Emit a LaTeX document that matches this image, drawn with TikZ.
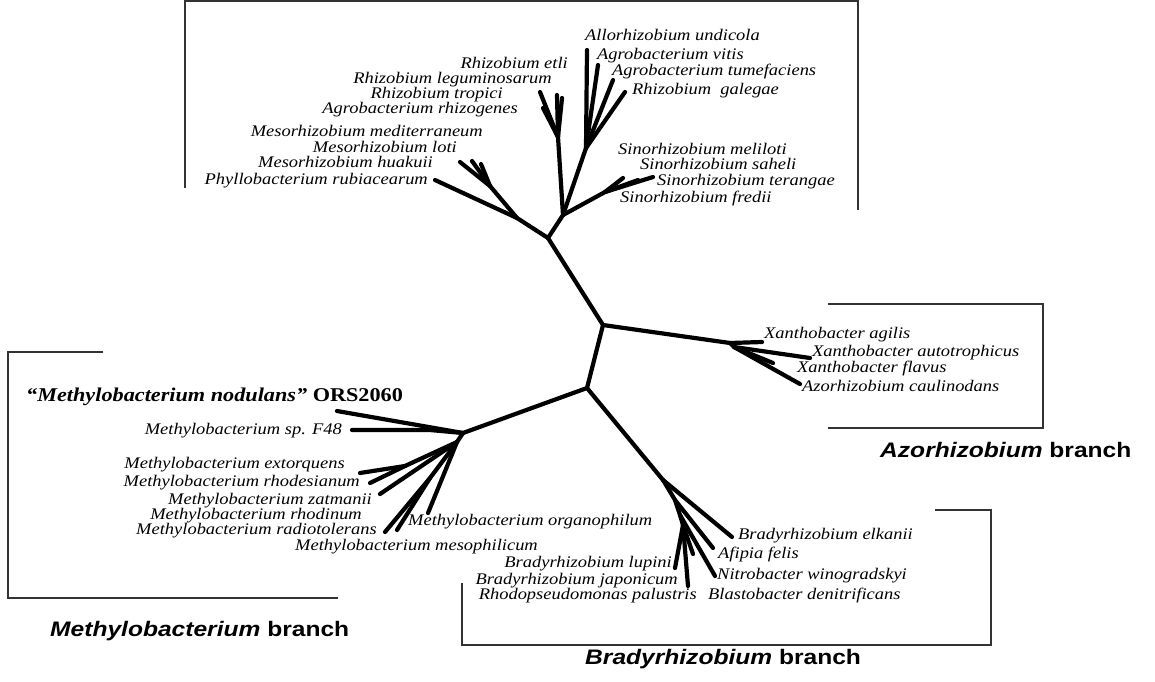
\documentclass[tikz,border=0pt]{standalone}
\usepackage{fontspec}
\newfontfamily\labfont[FakeStretch=1.14]{Liberation Serif}
\newfontfamily\brfont[FakeStretch=1.17]{Liberation Sans}
\begin{document}
\begin{tikzpicture}[x=1pt,y=-1pt,
  tree/.style={line width=4.2pt,line cap=round,line join=round},
  box/.style={line width=1.5pt,draw=black!80},
  lab/.style={font=\labfont\itshape\fontsize{16.2}{16.2}\selectfont,inner sep=0pt},
  le/.style={lab,anchor=mid east},
  lw/.style={lab,anchor=mid west},
  brlab/.style={font=\brfont\bfseries\fontsize{21}{21}\selectfont,inner sep=0pt,anchor=mid west}]
\useasboundingbox[fill=white] (0,0) rectangle (1155,681);

% ---------- boxes ----------
\coordinate (tb1) at (185,188); \coordinate (tb2) at (185,1);
\coordinate (tb3) at (858,1);   \coordinate (tb4) at (858,210);
\draw[box] (tb1) -- (tb2) -- (tb3) -- (tb4);
\coordinate (ab1) at (828,304); \coordinate (ab2) at (1043,304);
\coordinate (ab3) at (1043,428); \coordinate (ab4) at (828,428);
\draw[box] (ab1) -- (ab2) -- (ab3) -- (ab4);
\coordinate (mb1) at (103,352); \coordinate (mb2) at (8,352);
\coordinate (mb3) at (8,598);   \coordinate (mb4) at (338,598);
\draw[box] (mb1) -- (mb2) -- (mb3) -- (mb4);
\coordinate (bb1) at (462,583); \coordinate (bb2) at (462,645);
\coordinate (bb3) at (991,645); \coordinate (bb4) at (991,510);
\coordinate (bb5) at (935,510);
\draw[box] (bb1) -- (bb2) -- (bb3) -- (bb4) -- (bb5);

% ---------- backbone ----------
\coordinate (A) at (548,238);
\coordinate (B) at (603,325);
\coordinate (C) at (587,388);
\coordinate (M) at (463,433);
\coordinate (Z) at (730,343);
\coordinate (Br) at (663,480);
\draw[tree] (A) -- (B) -- (C) -- (M);
\draw[tree] (B) -- (Z);
\draw[tree] (C) -- (Br);

% ---------- top cluster ----------
\coordinate (Ms) at (517,218);
\coordinate (Mm) at (490,186);
\coordinate (tPhy) at (435,180);
\coordinate (tMe1) at (460,162);
\coordinate (tMe2) at (472,161);
\coordinate (tMe3) at (481,164);
\draw[tree] (A) -- (Ms) -- (tPhy);
\draw[tree] (Ms) -- (Mm) -- (tMe1);
\draw[tree] (Mm) -- (tMe2);
\draw[tree] (Mm) -- (tMe3);

\coordinate (R) at (563,215);
\coordinate (Rz) at (558,137);
\coordinate (tRe1) at (540,92);
\coordinate (tRe2) at (543,108);
\coordinate (tRe3) at (557,95);
\coordinate (tRe4) at (562,98);
\draw[tree] (A) -- (R) -- (Rz) -- (tRe1);
\draw[tree] (Rz) -- (tRe2);
\draw[tree] (Rz) -- (tRe3);
\draw[tree] (Rz) -- (tRe4);

\coordinate (Ag) at (586,148);
\coordinate (tAl) at (587,50);
\coordinate (tVi) at (598,65);
\coordinate (tTu) at (613,80);
\coordinate (tGa) at (625,92);
\draw[tree] (R) -- (Ag) -- (tAl);
\draw[tree] (Ag) -- (tVi);
\draw[tree] (Ag) -- (tTu);
\draw[tree] (Ag) -- (tGa);

\coordinate (S) at (605,192);
\coordinate (tSi1) at (623,178);
\coordinate (tSi2) at (638,180);
\coordinate (tSi3) at (653,177);
\draw[tree] (R) -- (S) -- (tSi1);
\draw[tree] (S) -- (tSi2);
\draw[tree] (S) -- (tSi3);

% ---------- Azorhizobium cluster ----------
\coordinate (Z2) at (734,347);
\coordinate (tXa) at (762,342);
\coordinate (tXau) at (810,358);
\coordinate (tXf) at (773,363);
\coordinate (tAz) at (800,384);
\draw[tree] (Z) -- (tXa);
\draw[tree] (Z) -- (Z2) -- (tXau);
\draw[tree] (Z2) -- (tXf);
\draw[tree] (Z2) -- (tAz);

% ---------- Methylobacterium cluster ----------
\coordinate (tNod) at (337,411);
\coordinate (F1) at (430,430);
\coordinate (tF48) at (352,430);
\draw[tree] (M) -- (tNod);
\draw[tree] (M) -- (F1) -- (tF48);
\coordinate (m1) at (457,442);
\coordinate (m2) at (405,466);
\coordinate (m3) at (430,478);
\coordinate (tExt) at (360,473);
\coordinate (tRhs) at (370,483);
\coordinate (tZat) at (380,494);
\coordinate (tRad) at (385,532);
\coordinate (tRhd) at (397,530);
\coordinate (tOrg) at (428,513);
\draw[tree] (M) -- (m1) -- (m2) -- (tExt);
\draw[tree] (m2) -- (tRhs);
\draw[tree] (m1) -- (tZat);
\draw[tree] (m1) -- (m3) -- (tRad);
\draw[tree] (m3) -- (tRhd);
\draw[tree] (m1) -- (tOrg);

% ---------- Bradyrhizobium cluster ----------
\coordinate (b1) at (675,500);
\coordinate (b2) at (680,515);
\coordinate (b3) at (683,525);
\coordinate (tElk) at (732,537);
\coordinate (tAfi) at (713,548);
\coordinate (tNit) at (715,576);
\coordinate (tStub) at (693,554);
\coordinate (tLup) at (675,568);
\coordinate (tJap) at (688,586);
\draw[tree] (Br) -- (tElk);
\draw[tree] (Br) -- (b1) -- (tAfi);
\draw[tree] (b1) -- (b2) -- (tNit);
\draw[tree] (b2) -- (b3) -- (tStub);
\draw[tree] (b3) -- (tLup);
\draw[tree] (b3) -- (tJap);

% ---------- labels: top ----------
\node[le] (lEtl) at (568,66) {Rhizobium etli};
\node[le] (lLeg) at (552,81) {Rhizobium leguminosarum};
\node[le] (lTro) at (503,96) {Rhizobium tropici};
\node[le] (lRhz) at (518,111) {Agrobacterium rhizogenes};
\node[le] (lMed) at (483,134) {Mesorhizobium mediterraneum};
\node[le] (lLot) at (457,150) {Mesorhizobium loti};
\node[le] (lHua) at (433,165) {Mesorhizobium huakuii};
\node[le] (lPhy) at (428,182) {Phyllobacterium rubiacearum};

\node[lw] (lAll) at (585,38) {Allorhizobium undicola};
\node[lw] (lVit) at (597,57) {Agrobacterium vitis};
\node[lw] (lTum) at (612,73) {Agrobacterium tumefaciens};
\node[lw] (lGal) at (632,92) {Rhizobium\ \ galegae};
\node[lw] (lMel) at (618,152) {Sinorhizobium meliloti};
\node[lw] (lSah) at (640,167) {Sinorhizobium saheli};
\node[lw] (lTer) at (657,183) {Sinorhizobium terangae};
\node[lw] (lFre) at (620,200) {Sinorhizobium fredii};

% ---------- labels: Azorhizobium ----------
\node[lw] (lXag) at (764,336) {Xanthobacter agilis};
\node[lw] (lXau) at (812,354) {Xanthobacter autotrophicus};
\node[lw] (lXfl) at (797,370) {Xanthobacter flavus};
\node[lw] (lAzc) at (802,389) {Azorhizobium caulinodans};

% ---------- labels: Methylobacterium ----------
\node[lab,anchor=mid west,font=\labfont\bfseries\fontsize{19.5}{19.5}\selectfont] (lNod) at (26,399)
  {\itshape “Methylobacterium nodulans”\upshape{} ORS2060};
\node[le] (lF48) at (342,432) {Methylobacterium sp. F48};
\node[le] (lExt) at (345,466) {Methylobacterium extorquens};
\node[le] (lRhs) at (360,484) {Methylobacterium rhodesianum};
\node[le] (lZat) at (372,502) {Methylobacterium zatmanii};
\node[le] (lRhd) at (362,517) {Methylobacterium rhodinum};
\node[le] (lRad) at (377,532) {Methylobacterium radiotolerans};
\node[le] (lMes) at (538,548) {Methylobacterium mesophilicum};
\node[lw] (lOrg) at (408,523) {Methylobacterium organophilum};

% ---------- labels: Bradyrhizobium ----------
\node[lw] (lElk) at (738,537) {Bradyrhizobium elkanii};
\node[lw] (lAfi) at (718,556) {Afipia felis};
\node[lw] (lNit) at (717,577) {Nitrobacter winogradskyi};
\node[lw] (lBla) at (708,597) {Blastobacter denitrificans};
\node[le] (lLup) at (672,565) {Bradyrhizobium lupini};
\node[le] (lJap) at (678,582) {Bradyrhizobium japonicum};
\node[le] (lRho) at (697,597) {Rhodopseudomonas palustris};

% ---------- branch names ----------
\node[brlab] (nAz) at (880,455) {\itshape Azorhizobium\upshape{} branch};
\node[brlab] (nMe) at (50,634) {\itshape Methylobacterium\upshape{} branch};
\node[brlab] (nBr) at (585,662) {\itshape Bradyrhizobium\upshape{} branch};
\end{tikzpicture}
\end{document}
